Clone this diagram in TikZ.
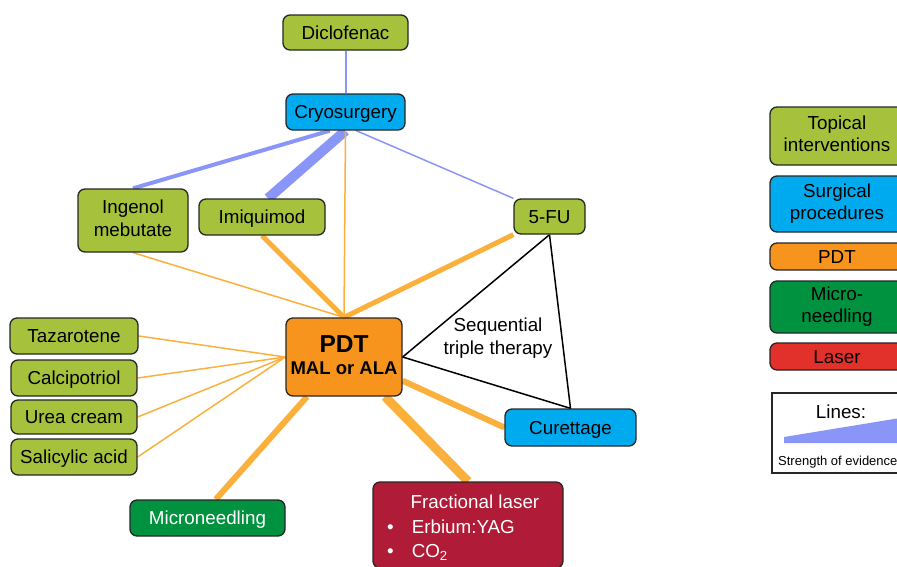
\documentclass[tikz,border=0pt]{standalone}
\usepackage{fontspec}
\setmainfont{Liberation Sans}
\usetikzlibrary{backgrounds}
\definecolor{topgreen}{HTML}{A6C13C}
\definecolor{surgblue}{HTML}{00AAEF}
\definecolor{pdtorange}{HTML}{F7941E}
\definecolor{mngreen}{HTML}{00923F}
\definecolor{laserred}{HTML}{E2312A}
\definecolor{fracred}{HTML}{B01C37}
\definecolor{edgeorange}{HTML}{FBB03B}
\definecolor{edgeblue}{HTML}{8A96F7}
\newcommand\boxstrut{\rule[-4.25pt]{0pt}{22pt}}
\tikzset{
  box/.style={draw=black!85,line width=1.3,rounded corners=7,inner sep=0,align=center,
    font=\fontsize{18.8}{22.5}\selectfont,
    execute at begin node=\boxstrut,execute at end node=\boxstrut},
  topical/.style={box,fill=topgreen},
  surgical/.style={box,fill=surgblue},
  pdtbox/.style={box,fill=pdtorange},
  needlebox/.style={box,fill=mngreen},
  laserbox/.style={box,fill=laserred},
  oline/.style={draw=edgeorange,line width=#1},
  bline/.style={draw=edgeblue,line width=#1}
}
\begin{document}
\begin{tikzpicture}[x=1pt,y=-1pt]
\useasboundingbox (0,0) rectangle (897,566);
\clip (0,0) rectangle (897,566);

\node[topical,minimum width=125,minimum height=35] (dic) at (345.5,32.5) {Diclofenac};
\node[surgical,minimum width=119,minimum height=36] (cryo) at (345.5,112) {Cryosurgery};
\node[topical,minimum width=110,minimum height=63] (ing) at (133,220.5) {Ingenol\\mebutate};
\node[topical,minimum width=126,minimum height=36] (imiq) at (262,217) {Imiquimod};
\node[topical,minimum width=71,minimum height=35] (fu) at (549.5,216.5) {5-FU};
\node[pdtbox,minimum width=116,minimum height=78,font=\bfseries\fontsize{18.5}{22}\selectfont,
    execute at begin node={},execute at end node={}] (pdt) at (344,357)
    {{\fontsize{24.5}{26}\selectfont PDT}\\MAL or ALA};
\node[topical,minimum width=128,minimum height=36] (taz) at (74,336) {Tazarotene};
\node[topical,minimum width=126,minimum height=36] (calc) at (74,378) {Calcipotriol};
\node[topical,minimum width=126,minimum height=34] (urea) at (74,417) {Urea cream};
\node[topical,minimum width=126,minimum height=36] (sal) at (74,457) {Salicylic acid};
\node[surgical,minimum width=131,minimum height=37] (cur) at (570.5,427.5) {Curettage};
\node[needlebox,minimum width=155,minimum height=36,text=white] (mn) at (207.5,518) {Microneedling};
\node[box,fill=fracred,minimum width=190,minimum height=86] (fl) at (468,525) {};
\node[font=\fontsize{18.8}{22.5}\selectfont,text=white] (fltitle) at (475,502) {Fractional laser};
\node[font=\fontsize{18.8}{22.5}\selectfont,text=white,anchor=west,inner sep=0] (flone) at (387,526.5)
    {\textbullet\hspace{18pt}Erbium:YAG};
\node[font=\fontsize{18.8}{22.5}\selectfont,text=white,anchor=base west,inner sep=0] (fltwo) at (387,557)
    {\textbullet\hspace{18pt}CO\textsubscript{2}};
\node[align=center,font=\fontsize{18.8}{22.5}\selectfont] (seq) at (498,338) {Sequential\\triple therapy};

\node[topical,minimum width=134,minimum height=58] (legtop) at (837,136) {Topical\\interventions};
\node[surgical,minimum width=134,minimum height=56] (legsurg) at (837,204) {Surgical\\procedures};
\node[pdtbox,minimum width=134,minimum height=27] (legpdt) at (837,256.5) {PDT};
\node[needlebox,minimum width=134,minimum height=52] (legmn) at (837,307) {Micro-\\needling};
\node[laserbox,minimum width=134,minimum height=27] (leglas) at (837,356.5) {Laser};
\draw[line width=1.3,black!85] (772,393) rectangle (904,473);
\node[font=\fontsize{18.8}{22.5}\selectfont] (leglines) at (841,412) {Lines:};
\fill[edgeblue] (784,437) -- (900,418) -- (900,443) -- (784,443) -- cycle;
\node[font=\fontsize{13}{15}\selectfont,anchor=west,inner sep=0] (legev) at (778,462) {Strength of evidence};

\begin{scope}[on background layer]
\draw[bline=2] (dic) -- (cryo);
\draw[bline=4] (cryo.230) -- (ing.north);
\draw[bline=10] (cryo.south) -- (imiq.72);
\draw[bline=1.5] (cryo.300) -- (fu.north west);
\draw[oline=1.5] (cryo.south) -- (pdt.north);
\draw[oline=1.5] (ing.south) -- (pdt.north);
\draw[oline=5] (imiq.south) -- (pdt.north);
\draw[oline=5] (fu.south west) -- (pdt.north);
\draw[oline=1.5] (taz.east) -- (pdt.west);
\draw[oline=1.5] (calc.east) -- (pdt.west);
\draw[oline=1.5] (urea.east) -- (pdt.west);
\draw[oline=1.5] (sal.east) -- (pdt.west);
\draw[oline=6] (pdt.-22) -- (cur.west);
\draw[oline=9] (pdt.-44) -- (fl.north);
\draw[oline=6] (pdt.227) -- (mn.66);
\draw[line width=1.5] (fu.south) -- (pdt.east) -- (cur.north) -- (fu.south);
\end{scope}
\end{tikzpicture}
\end{document}
